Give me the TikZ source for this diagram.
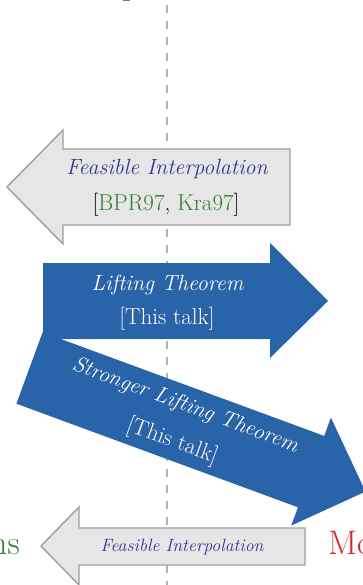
\documentclass[tikz,border=0pt]{standalone}
\definecolor{arrowblue}{RGB}{42,100,168}
\definecolor{palegrey}{RGB}{230,230,230}
\definecolor{edgegrey}{RGB}{158,158,158}
\definecolor{citegreen}{RGB}{46,128,50}
\definecolor{titleblue}{RGB}{51,51,153}
\definecolor{sidered}{RGB}{214,40,40}
\definecolor{guidegrey}{RGB}{178,178,178}
\begin{document}
\begin{tikzpicture}[x=1pt,y=-1pt,
  greyarrow/.style={fill=palegrey,draw=edgegrey,line width=1.4pt,line join=miter},
  bluearrow/.style={fill=arrowblue},
  txt/.style={inner sep=0pt,anchor=base},
  headline/.style={font=\fontsize{22}{26}\selectfont\itshape},
  citeline/.style={font=\fontsize{23}{27}\selectfont\upshape},
  smalltext/.style={font=\fontsize{17.8}{21}\selectfont\itshape},
  sidetext/.style={font=\fontsize{34}{40}\selectfont},
  tilted/.style={inner sep=0pt,rotate=-20.2,text=white},
]
\useasboundingbox (0,0) rectangle (363,585);

% vertical dashed divider
\coordinate (divtop) at (167,5);
\coordinate (divbot) at (167,590);
\draw[guidegrey,line width=2pt,dash pattern=on 8pt off 8pt] (divtop) -- (divbot);

% glyph tail poking in at the top edge
\fill[titleblue!70] (123,-1) rectangle (130,1.5);

% upper grey arrow (pointing left)
\path[greyarrow] (290,149) -- (63,149) -- (63,130) -- (7,187) -- (63,244)
  -- (63,225) -- (290,225) -- cycle;
\node[txt,headline,text=titleblue] (fi1) at (167,175) {Feasible Interpolation};
\node[txt,citeline] (cite1) at (166,211)
  {[\textcolor{citegreen}{BPR97}, \textcolor{citegreen}{Kra97}]};

% tilted blue arrow, drawn under the straight one
\path[bluearrow] (42.6,332.3) -- (324.2,435.9) -- (330.9,417.6) -- (365.5,491.6)
  -- (291.2,525.6) -- (298,507.3) -- (16.4,403.7) -- cycle;
\node[tilted,headline] (strong) at (185.2,405.7) {Stronger Lifting Theorem};
\node[tilted,citeline] (talk2) at (172.2,441.3) {[This talk]};

% blue arrow (pointing right)
\path[bluearrow] (43,263) -- (270,263) -- (270,243) -- (328,301) -- (270,358)
  -- (270,339) -- (43,339) -- cycle;
\node[txt,headline,text=white] (lift) at (167.5,290) {Lifting Theorem};
\node[txt,citeline,text=white] (talk1) at (167,324) {[This talk]};

% lower grey arrow (pointing left)
\path[greyarrow] (305,528) -- (79,528) -- (79,507) -- (41,546) -- (79,585)
  -- (79,565) -- (305,565) -- cycle;
\node[txt,smalltext,text=titleblue] (fi2) at (182,551) {Feasible Interpolation};

% side labels cut by the frame
\node[inner sep=0pt,anchor=base east,sidetext,text=citegreen] (leftlab) at (20,554) {ns};
\node[inner sep=0pt,anchor=base west,sidetext,text=sidered] (rightlab) at (328,554) {Mo};
\end{tikzpicture}
\end{document}
